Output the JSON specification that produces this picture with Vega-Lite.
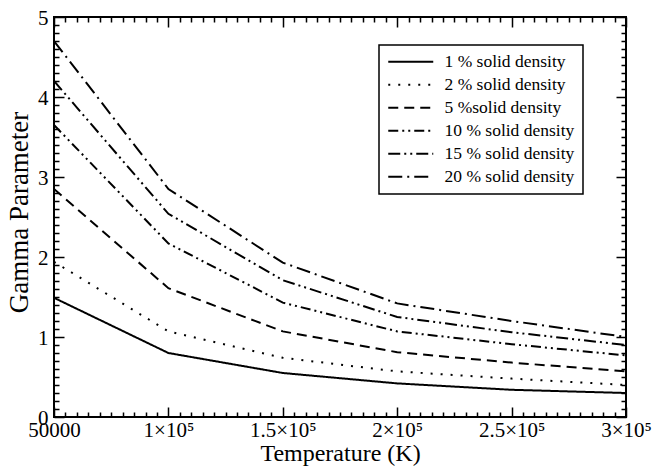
{
  "$schema": "https://vega.github.io/schema/vega-lite/v6.json",
  "width": 572,
  "height": 400,
  "autosize": {"type": "none"},
  "padding": {"left": 54, "top": 17, "right": 39, "bottom": 51},
  "background": "white",
  "data": {
    "values": [
      {"T": 50000, "gamma": 1.49, "series": "1 % solid density"},
      {"T": 100000, "gamma": 0.80, "series": "1 % solid density"},
      {"T": 150000, "gamma": 0.55, "series": "1 % solid density"},
      {"T": 200000, "gamma": 0.42, "series": "1 % solid density"},
      {"T": 250000, "gamma": 0.34, "series": "1 % solid density"},
      {"T": 300000, "gamma": 0.30, "series": "1 % solid density"},
      {"T": 50000, "gamma": 1.94, "series": "2 % solid density"},
      {"T": 100000, "gamma": 1.07, "series": "2 % solid density"},
      {"T": 150000, "gamma": 0.74, "series": "2 % solid density"},
      {"T": 200000, "gamma": 0.57, "series": "2 % solid density"},
      {"T": 250000, "gamma": 0.48, "series": "2 % solid density"},
      {"T": 300000, "gamma": 0.40, "series": "2 % solid density"},
      {"T": 50000, "gamma": 2.85, "series": "5 %solid density"},
      {"T": 100000, "gamma": 1.61, "series": "5 %solid density"},
      {"T": 150000, "gamma": 1.07, "series": "5 %solid density"},
      {"T": 200000, "gamma": 0.81, "series": "5 %solid density"},
      {"T": 250000, "gamma": 0.68, "series": "5 %solid density"},
      {"T": 300000, "gamma": 0.57, "series": "5 %solid density"},
      {"T": 50000, "gamma": 3.65, "series": "10 % solid density"},
      {"T": 100000, "gamma": 2.17, "series": "10 % solid density"},
      {"T": 150000, "gamma": 1.43, "series": "10 % solid density"},
      {"T": 200000, "gamma": 1.07, "series": "10 % solid density"},
      {"T": 250000, "gamma": 0.91, "series": "10 % solid density"},
      {"T": 300000, "gamma": 0.77, "series": "10 % solid density"},
      {"T": 50000, "gamma": 4.20, "series": "15 % solid density"},
      {"T": 100000, "gamma": 2.54, "series": "15 % solid density"},
      {"T": 150000, "gamma": 1.71, "series": "15 % solid density"},
      {"T": 200000, "gamma": 1.25, "series": "15 % solid density"},
      {"T": 250000, "gamma": 1.06, "series": "15 % solid density"},
      {"T": 300000, "gamma": 0.90, "series": "15 % solid density"},
      {"T": 50000, "gamma": 4.70, "series": "20 % solid density"},
      {"T": 100000, "gamma": 2.85, "series": "20 % solid density"},
      {"T": 150000, "gamma": 1.93, "series": "20 % solid density"},
      {"T": 200000, "gamma": 1.42, "series": "20 % solid density"},
      {"T": 250000, "gamma": 1.20, "series": "20 % solid density"},
      {"T": 300000, "gamma": 1.00, "series": "20 % solid density"}
    ]
  },
  "mark": {"type": "line", "color": "black", "strokeWidth": 2, "strokeCap": "butt", "clip": true},
  "encoding": {
    "x": {"field": "T", "type": "quantitative", "scale": {"domain": [50000, 300000], "nice": false, "zero": false},
      "axis": {"orient": "bottom", "domain": false, "ticks": false,
        "values": [50000, 55000, 60000, 65000, 70000, 75000, 80000, 85000, 90000, 95000, 100000, 105000, 110000, 115000, 120000, 125000, 130000, 135000, 140000, 145000, 150000, 155000, 160000, 165000, 170000, 175000, 180000, 185000, 190000, 195000, 200000, 205000, 210000, 215000, 220000, 225000, 230000, 235000, 240000, 245000, 250000, 255000, 260000, 265000, 270000, 275000, 280000, 285000, 290000, 295000, 300000],
        "grid": true, "gridColor": "black", "gridWidth": 1.5, "gridOpacity": 1,
        "gridDash": {"condition": {"test": "datum.value % 50000 === 0", "value": [10, 380, 10, 1000]}, "value": [5, 390, 5, 1000]},
        "labelExpr": "datum.value % 50000 !== 0 ? '' : (datum.value == 50000 ? '50000' : (datum.value / 100000) + '×10⁵')",
        "labelFont": "Liberation Serif", "labelFontSize": 21, "labelColor": "black", "labelPadding": 2, "labelFlush": false, "labelOverlap": false, "labelBound": false,
        "title": "Temperature (K)", "titleFont": "Liberation Serif", "titleFontSize": 24, "titleFontWeight": "normal", "titleColor": "black", "titlePadding": 1}},
    "y": {"field": "gamma", "type": "quantitative", "scale": {"domain": [0, 5], "nice": false, "zero": false},
      "axis": {"orient": "left", "domain": false, "ticks": false,
        "values": [0, 0.1, 0.2, 0.3, 0.4, 0.5, 0.6, 0.7, 0.8, 0.9, 1, 1.1, 1.2, 1.3, 1.4, 1.5, 1.6, 1.7, 1.8, 1.9, 2, 2.1, 2.2, 2.3, 2.4, 2.5, 2.6, 2.7, 2.8, 2.9, 3, 3.1, 3.2, 3.3, 3.4, 3.5, 3.6, 3.7, 3.8, 3.9, 4, 4.1, 4.2, 4.3, 4.4, 4.5, 4.6, 4.7, 4.8, 4.9, 5],
        "grid": true, "gridColor": "black", "gridWidth": 1.5, "gridOpacity": 1,
        "gridDash": {"condition": {"test": "datum.value % 1 === 0", "value": [10, 552, 10, 1000]}, "value": [5, 562, 5, 1000]},
        "labelExpr": "datum.value % 1 === 0 ? format(datum.value, 'd') : ''",
        "labelFont": "Liberation Serif", "labelFontSize": 21, "labelColor": "black", "labelPadding": 6, "labelOffset": 1, "labelFlush": false, "labelOverlap": false, "labelBound": false,
        "title": "Gamma Parameter", "titleFont": "Liberation Serif", "titleFontSize": 27, "titleFontWeight": "normal", "titleColor": "black", "titleX": -21, "titleY": 195, "titleBaseline": "bottom", "titleAngle": -90}},
    "strokeDash": {"field": "series", "type": "nominal",
      "scale": {"domain": ["1 % solid density", "2 % solid density", "5 %solid density", "10 % solid density", "15 % solid density", "20 % solid density"],
        "range": [[1, 0], [2, 8], [10, 6], [10, 4, 2, 4, 2, 4], [12, 4, 2, 4, 2, 4], [14, 5, 2, 5]]},
      "legend": {"title": null, "orient": "none", "legendX": 325, "legendY": 28, "symbolType": "M-1,0H5", "symbolSize": 225, "symbolStrokeWidth": 2, "symbolStrokeColor": "black", "symbolFillColor": "transparent",
        "labelFont": "Liberation Serif", "labelFontSize": 17.5, "labelColor": "black", "labelOffset": 40, "rowPadding": 4, "padding": 8, "strokeColor": "black", "fillColor": "white",
        "labelLimit": 300,
        "encode": {"legend": {"update": {"strokeWidth": {"value": 1.5}}}}}}
  },
  "config": {"view": {"stroke": "black", "strokeWidth": 2}}
}
